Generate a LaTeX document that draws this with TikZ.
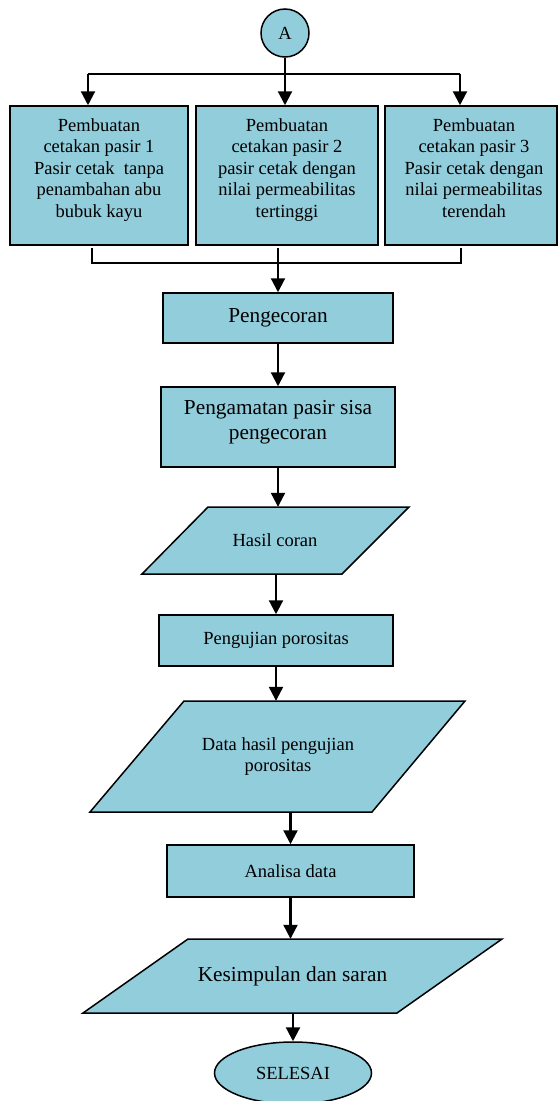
\documentclass[tikz,border=0pt]{standalone}
\usepackage{fontspec}
\setmainfont{Liberation Serif}
\usetikzlibrary{arrows.meta,shapes.geometric}
\definecolor{aqua}{HTML}{92CDDC}
\newcommand\fsA{\fontsize{18.5}{21.5}\selectfont}
\newcommand\fsB{\fontsize{21.3}{25}\selectfont}
\begin{document}
\begin{tikzpicture}[x=1pt,y=-1pt,
  boxs/.style={draw, line width=1.5pt, fill=aqua, rectangle, inner sep=0pt},
  para/.style={draw, line width=1.5pt, fill=aqua, line join=miter},
  lbl/.style={align=center, inner sep=0pt, font=\fsA},
  lblB/.style={align=center, inner sep=0pt, font=\fsB},
  conn/.style={line width=2.2pt},
  arr/.style={line width=2.2pt, -{Triangle[width=14pt,length=14pt]}}]
\useasboundingbox (0,0) rectangle (558,1101);

% start connector
\node[draw, circle, line width=1.5pt, fill=aqua, minimum size=48pt, inner sep=0pt, font=\fsA] (A) at (285,33) {A};

% three boxes
\node[boxs, minimum width=178pt, minimum height=139pt] (b1) at (99,175.5) {};
\node[boxs, minimum width=182pt, minimum height=139pt] (b2) at (287,175.5) {};
\node[boxs, minimum width=172pt, minimum height=139pt] (b3) at (471,175.5) {};
\node[lbl, anchor=north] (t1) at (99,118) {Pembuatan\\cetakan pasir 1\\Pasir cetak\ \ tanpa\\penambahan abu\\bubuk kayu};
\node[lbl, anchor=north] (t2) at (287,118) {Pembuatan\\cetakan pasir 2\\pasir cetak dengan\\nilai permeabilitas\\tertinggi};
\node[lbl, anchor=north] (t3) at (474,118) {Pembuatan\\cetakan pasir 3\\Pasir cetak dengan\\nilai permeabilitas\\terendah};

% split
\coordinate (sL) at (88,74);
\coordinate (sR) at (460,74);
\draw[conn] (sL) -- (sR);
\draw[arr] (A.south) -- (A.south |- b2.north);
\draw[arr] (sL) -- (sL |- b1.north);
\draw[arr] (sR) -- (sR |- b3.north);

% main column
\node[boxs, minimum width=230pt, minimum height=50pt, font=\fsB] (p1) at (278,318) {Pengecoran};
\node[boxs, minimum width=234pt, minimum height=80pt] (p2) at (278,427) {};
\node[lblB] (t4) at (278,422.5) {Pengamatan pasir sisa\\pengecoran};

\draw[para] (208,507) -- (409,507) -- (342,574) -- (142,574) -- cycle;
\node[lbl, minimum height=67pt] (hasil) at (275,540.5) {Hasil coran};

\node[boxs, minimum width=234pt, minimum height=51pt, font=\fsA] (p3) at (276,640.5) {Pengujian porositas};

\draw[para] (184,701) -- (465,701) -- (372,812) -- (90,812) -- cycle;
\node[lbl, minimum height=111pt] (data) at (278,756.5) {Data hasil pengujian\\porositas};

\node[boxs, minimum width=247pt, minimum height=52pt, font=\fsA] (p4) at (290.5,871) {Analisa data};

\draw[para] (188,939) -- (502,939) -- (397,1013) -- (83,1013) -- cycle;
\node[lblB, minimum height=74pt] (kes) at (292.5,976) {Kesimpulan dan saran};

\node[draw, ellipse, line width=1.5pt, fill=aqua, minimum width=157pt, minimum height=62pt, inner sep=0pt, font=\fsA] (end) at (293,1073) {SELESAI};

% join
\coordinate (jL) at (92,248);
\coordinate (jR) at (461,248);
\coordinate (jM) at (278,248);
\draw[conn, line width=1.5pt] (jL) -- ++(0,15) -| (jR);
\draw[arr] (jM) -- (jM |- p1.north);

% connectors
\draw[arr] (p1.south) -- (p2.north);
\draw[arr] (p2.south) -- (p2.south |- hasil.north);
\draw[arr] (p3.north |- hasil.south) -- (p3.north);
\draw[arr] (p3.south) -- (p3.south |- data.north);
\draw[arr] (p4.north |- data.south) -- (p4.north);
\draw[arr] (p4.south) -- (p4.south |- kes.north);
\draw[arr] (end.north |- kes.south) -- (end.north);
\end{tikzpicture}
\end{document}
